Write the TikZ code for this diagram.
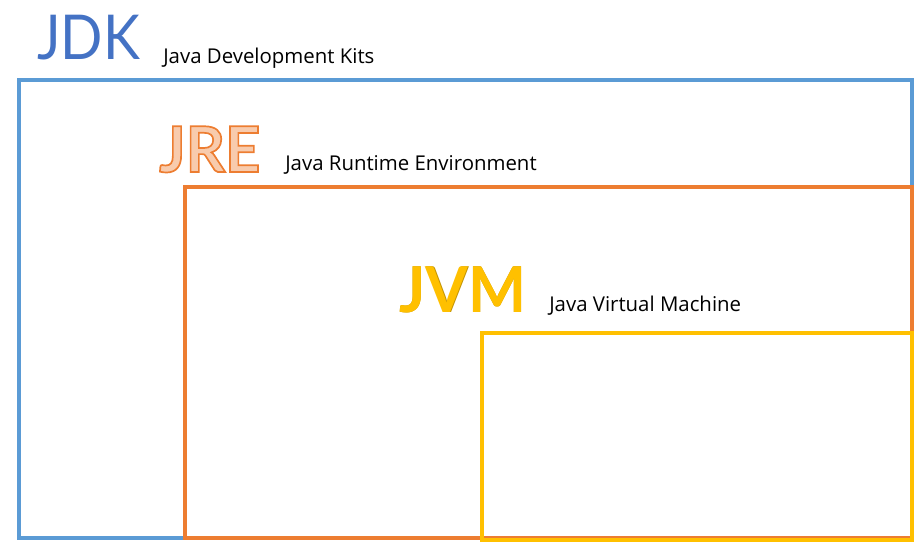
\documentclass[tikz,border=0pt]{standalone}
\usepackage{fontspec}
\setmainfont{Open Sans}
\newfontfamily\headfont[FakeStretch=0.9]{Lato}
\newfontfamily\headboldfont[FakeStretch=0.97]{Lato Bold}
\usepackage{xcolor}
\usepackage{tikz}
\usetikzlibrary{positioning}
\definecolor{JdkBlue}{RGB}{91,155,213}
\definecolor{JdkText}{RGB}{68,114,196}
\definecolor{JreOrange}{RGB}{237,125,49}
\definecolor{JreFill}{RGB}{248,203,173}
\definecolor{JvmGold}{RGB}{255,192,0}
\definecolor{JvmShade}{RGB}{191,144,0}
% outlined letters: fill + stroke render mode
\newcommand{\outlined}[1]{\special{pdf:literal direct 0.929 0.490 0.192 RG 1.2 w 2 Tr}#1\special{pdf:literal direct 0 Tr}}

\begin{document}
\begin{tikzpicture}[x=0.025cm, y=-0.025cm,
          frame/.style={line width=3.2pt},
          big/.style={anchor=base west, inner sep=0pt, font=\headfont\fontsize{44}{44}\selectfont},
          bigbold/.style={big, font=\headboldfont\fontsize{45}{45}\selectfont},
          sub/.style={anchor=base west, inner sep=0pt, font=\fontsize{14.5}{16}\selectfont, black}
        ]
        \useasboundingbox (0,0) rectangle (924,558);

        % JDK
        \node[big, JdkText] (jdk) at (37,60) {JDK};
        \node[sub] (jdkname) at (163,64) {Java Development Kits};
        \draw[frame, JdkBlue] (19,80) rectangle (912,538);

        % JRE
        \node[bigbold, JreFill] (jre) at (159,172) {\outlined{JRE}};
        \node[sub] (jrename) at (285,170) {Java Runtime Environment};
        \draw[frame, JreOrange] (185,187) rectangle (912,538);

        % JVM
        \node[bigbold, JvmShade] (jvmshade) at (399.6,312.6) {JVM};
        \node[bigbold, JvmGold] (jvm) at (399,312) {JVM};
        \node[sub] (jvmname) at (549,311) {Java Virtual Machine};
        \draw[frame, JvmGold] (482,333) rectangle (912,540);
\end{tikzpicture}
\end{document}
